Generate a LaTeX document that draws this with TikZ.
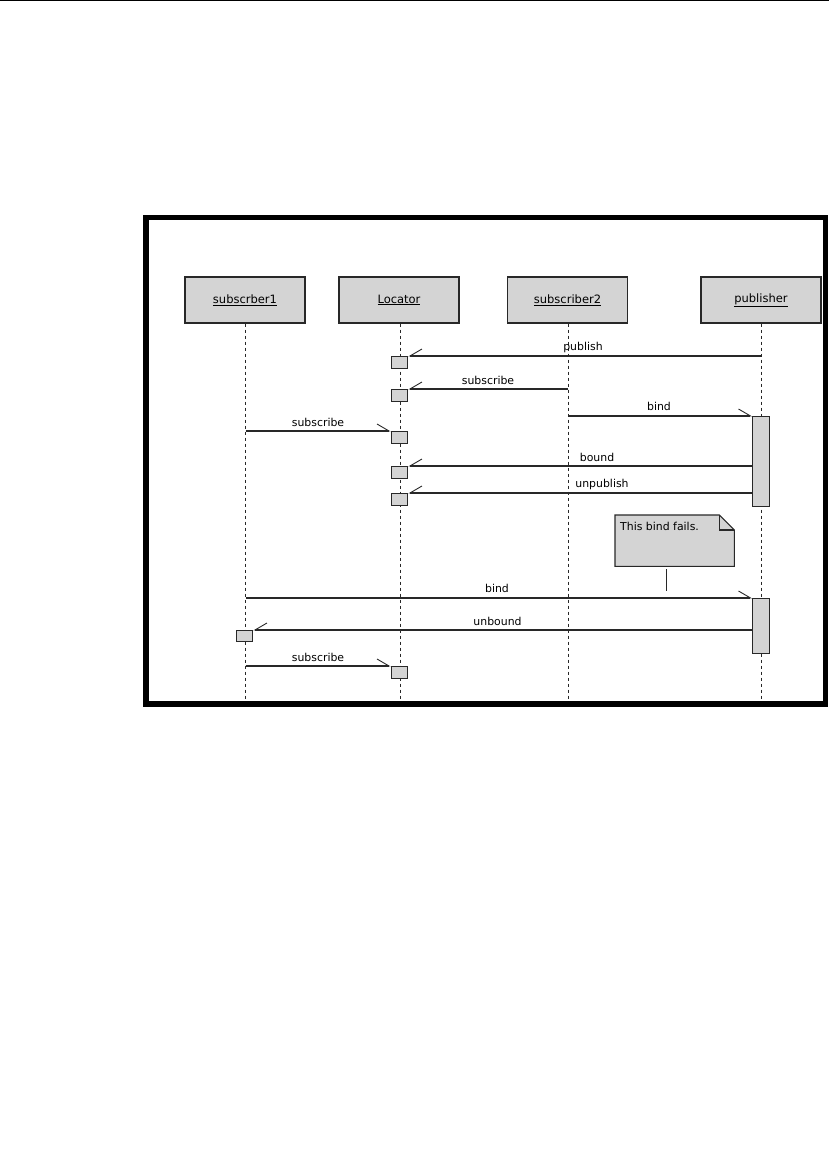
\documentclass[tikz,border=0pt]{standalone}
\usepackage{fontspec}
\setmainfont{DejaVu Sans}
\usetikzlibrary{arrows.meta}
\definecolor{umlgray}{RGB}{212,212,212}
\definecolor{umlline}{RGB}{40,40,40}
\tikzset{
  headbox/.style={draw=umlline, fill=umlgray, line width=1.1pt, minimum width=120pt, minimum height=46pt, inner sep=0pt},
  actbox/.style={draw=umlline, fill=umlgray, line width=1.1pt, minimum width=16.5pt, minimum height=#1, inner sep=0pt, anchor=north},
  actbox/.default=12pt,
  lifeline/.style={umlline, line width=0.9pt, dash pattern=on 3pt off 3pt},
  msgright/.style={umlline, line width=1.1pt, -{Straight Barb[harpoon, length=12pt, width=14pt, line width=0.9pt]}},
  msgleft/.style={umlline, line width=1.1pt, -{Straight Barb[harpoon, swap, length=12pt, width=14pt, line width=0.9pt]}},
  msglabel/.style={anchor=base, inner sep=0pt},
}
\newcommand{\umlName}[1]{\underline{#1}}

\begin{document}
\begin{tikzpicture}[x=1pt,y=-1pt,font=\fontsize{10.9}{13}\selectfont]
\useasboundingbox (0,0) rectangle (829,1170);
% page rule and frame
\draw[line width=1.3pt] (0,0.7) -- (829,0.7);
\draw[line width=5.5pt] (146,217.5) rectangle (825.5,704);
% objects
\node[headbox, font=\fontsize{11.5}{13}\selectfont] (sub1) at (245,300) {\umlName{subscrber1}};
\node[headbox, font=\fontsize{11.5}{13}\selectfont] (loc) at (399,300) {\umlName{Locator}};
\node[headbox, font=\fontsize{11.5}{13}\selectfont] (sub2) at (567.5,300) {\umlName{subscriber2}};
\node[headbox, font=\fontsize{11.5}{13}\selectfont] (pub) at (761,300) {\umlName{publisher}};
% lifelines
\foreach \n/\x in {sub1/245.5, loc/400, sub2/568, pub/761.5} {
  \coordinate (\n-end) at (\x,700);
  \draw[lifeline] (\n.south -| \n-end) -- (\n-end);
}
% activations
\node[actbox] (locA) at (399.5,356) {};
\node[actbox] (locB) at (399.5,389) {};
\node[actbox] (locC) at (399.5,431) {};
\node[actbox] (locD) at (399.5,466) {};
\node[actbox] (locE) at (399.5,493) {};
\node[actbox] (locF) at (399.5,666) {};
\node[actbox=90pt] (pubA) at (761,416) {};
\node[actbox=55pt] (pubB) at (761,598) {};
\node[actbox=11pt] (sub1A) at (244.5,630) {};
% messages
\draw[msgleft] (pub-end |- locA.north) -- (locA.north east);
\draw[msgleft] (sub2-end |- locB.north) -- (locB.north east);
\draw[msgright] (sub2-end |- pubA.north) -- (pubA.north west);
\draw[msgright] (sub1-end |- locC.north) -- (locC.north west);
\draw[msgleft] (pubA.west |- locD.north) -- (locD.north east);
\draw[msgleft] (pubA.west |- locE.north) -- (locE.north east);
\draw[msgright] (sub1-end |- pubB.north) -- (pubB.north west);
\draw[msgleft] (pubB.west |- sub1A.north) -- (sub1A.north east);
\draw[msgright] (sub1-end |- locF.north) -- (locF.north west);
% message labels
\node[msglabel] at (583,350.5) {publish};
\node[msglabel] at (488,384) {subscribe};
\node[msglabel] at (659,410.5) {bind};
\node[msglabel] at (318,426) {subscribe};
\node[msglabel] at (597,461) {bound};
\node[msglabel] at (602,487) {unpublish};
\node[msglabel] at (497,592) {bind};
\node[msglabel] at (497.5,625) {unbound};
\node[msglabel] at (318,661) {subscribe};
% note
\node[minimum width=119pt, minimum height=51pt, inner sep=0pt, anchor=north west] (note) at (615,515) {};
\draw[umlline, line width=1.1pt, fill=umlgray] (note.north west) -- ([xshift=-15pt]note.north east) -- ([yshift=-15pt]note.north east) -- (note.south east) -- (note.south west) -- cycle;
\draw[umlline, line width=1.1pt] ([xshift=-15pt]note.north east) -- ([xshift=-15pt,yshift=-15pt]note.north east) -- ([yshift=-15pt]note.north east);
\node[anchor=base west, inner sep=0pt] (notetext) at (620,530) {This bind fails.};
\coordinate (noteTip) at (666.5,591);
\draw[umlline, line width=1.1pt] ([yshift=-3pt]note.south -| noteTip) -- (noteTip);
\end{tikzpicture}
\end{document}
